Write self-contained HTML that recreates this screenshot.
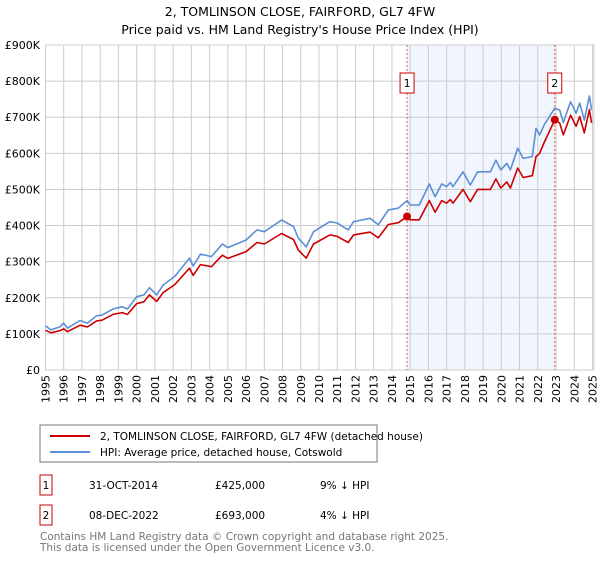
<!DOCTYPE html>
<html><head><meta charset="utf-8"><style>
body{margin:0;background:#fff;font-family:"Liberation Sans","DejaVu Sans",sans-serif;}
svg text{font-family:"DejaVu Sans","Liberation Sans",sans-serif;}
</style></head><body>
<svg id="c" width="600" height="560" xmlns="http://www.w3.org/2000/svg">
<text x="300" y="16" text-anchor="middle" font-size="12.5" fill="#000">2, TOMLINSON CLOSE, FAIRFORD, GL7 4FW</text>
<text x="300" y="34" text-anchor="middle" font-size="12.5" fill="#000">Price paid vs. HM Land Registry's House Price Index (HPI)</text>
<g id="plot"></g>
<rect x="40" y="425" width="337" height="37" fill="#fff" stroke="#777"/>
<line x1="50" y1="436" x2="90" y2="436" stroke="#cc0000" stroke-width="2"/>
<text x="100" y="440" font-size="10.5">2, TOMLINSON CLOSE, FAIRFORD, GL7 4FW (detached house)</text>
<line x1="50" y1="452" x2="90" y2="452" stroke="#5b8fd6" stroke-width="2"/>
<text x="100" y="456" font-size="10.5">HPI: Average price, detached house, Cotswold</text>
<g font-size="10.5">
<rect x="40" y="475" width="12" height="20" fill="#fff" stroke="#cc0000"/>
<text x="46" y="489" text-anchor="middle">1</text>
<text x="89" y="489">31-OCT-2014</text>
<text x="215" y="489">£425,000</text>
<text x="320" y="489">9% ↓ HPI</text>
<rect x="40" y="505" width="12" height="20" fill="#fff" stroke="#cc0000"/>
<text x="46" y="519" text-anchor="middle">2</text>
<text x="89" y="519">08-DEC-2022</text>
<text x="215" y="519">£693,000</text>
<text x="320" y="519">4% ↓ HPI</text>
</g>
<text x="40" y="540" font-size="10.5" fill="#777">Contains HM Land Registry data © Crown copyright and database right 2025.</text>
<text x="40" y="551" font-size="10.5" fill="#777">This data is licensed under the Open Government Licence v3.0.</text>
</svg>
<script>
const yearTicks=[1995,1996,1997,1998,1999,2000,2001,2002,2003,2004,2005,2006,2007,2008,2009,2010,2011,2012,2013,2014,2015,2016,2017,2018,2019,2020,2021,2022,2023,2024,2025];
const valueTicks=[0,100,200,300,400,500,600,700,800,900];
const valueLabels=["£0","£100K","£200K","£300K","£400K","£500K","£600K","£700K","£800K","£900K"];
const hpiTimes=[1995.0,1995.3,1995.8,1996.0,1996.2,1996.9,1997.3,1997.8,1998.1,1998.7,1999.2,1999.5,2000.0,2000.4,2000.7,2001.1,2001.45,2002.1,2002.9,2003.1,2003.5,2004.1,2004.7,2005.0,2006.0,2006.6,2007.0,2007.95,2008.6,2008.87,2009.3,2009.7,2010.6,2011.0,2011.6,2011.9,2012.8,2013.25,2013.8,2014.35,2014.83,2015.0,2015.5,2016.05,2016.37,2016.73,2017.0,2017.2,2017.35,2017.9,2018.3,2018.7,2019.4,2019.7,2019.97,2020.3,2020.5,2020.9,2021.2,2021.7,2021.9,2022.1,2022.35,2022.93,2023.2,2023.4,2023.8,2024.1,2024.3,2024.55,2024.83,2024.95];
const hpiValues=[122,111,120,130,116,137,130,150,152,169,175,169,203,208,228,208,235,260,310,288,321,314,349,339,360,388,383,415,397,365,341,383,411,407,388,411,420,402,443,448,469,457,457,515,480,515,508,519,508,549,512,549,549,581,554,572,554,614,586,591,669,651,679,725,720,685,743,711,739,692,759,720];
const paidValues=[110,103,109,114,106,124,119,136,138,154,159,154,184,189,208,190,214,237,282,262,292,286,318,309,328,353,349,378,361,332,310,349,374,370,353,374,382,366,403,408,425,416,416,469,437,469,462,472,462,500,466,500,500,529,504,521,504,559,533,538,591,600,630,693,684,651,706,675,702,657,721,684];
const saleTimes=[2014.83,2022.93];
const saleValues=[425,693];
const saleLabels=["1","2"];

const L=45.5,R=592.5,T=45,B=370,X0=1995,X1=2025,VMAX=900;
const xs=t=>L+(t-X0)/(X1-X0)*(R-L);
const ys=v=>B-v/VMAX*(B-T);
const NS="http://www.w3.org/2000/svg";
const g=document.getElementById('plot');
function mk(tag,attrs){const e=document.createElementNS(NS,tag);for(const k in attrs)e.setAttribute(k,attrs[k]);g.appendChild(e);return e;}

const shade=mk('rect',{x:xs(saleTimes[0]),y:T,width:xs(saleTimes[1])-xs(saleTimes[0]),height:B-T,fill:'#eef2fc',opacity:0.8});



yearTicks.forEach(yr=>{
  const x=xs(yr);
  const gl=mk('line',{x1:x,y1:T,x2:x,y2:B,stroke:'#cccccc','stroke-width':1});
  
  
  const tx=mk('text',{x:0,y:0,'font-size':11,'text-anchor':'end',transform:`translate(${x+4},${B+5}) rotate(-90)`});
  tx.textContent=yr;
  
  
});
valueTicks.forEach((v,i)=>{
  const y=ys(v);
  const gl=mk('line',{x1:L,y1:y,x2:594,y2:y,stroke:'#cccccc','stroke-width':1});
  
  
  const tx=mk('text',{x:40,y:y+4,'font-size':11,'text-anchor':'end'});
  tx.textContent=valueLabels[i];
  
  
});
const frame=mk('rect',{x:L,y:T,width:594-L,height:B-T,fill:'none',stroke:'#cccccc'});



saleTimes.forEach((t,i)=>{
  const x=xs(t);
  const vl=mk('line',{x1:x,y1:T,x2:x,y2:B,stroke:'#ee5555','stroke-width':1,'stroke-dasharray':'2,2'});
  
  
  const bx=mk('rect',{x:x-7,y:73,width:14,height:20,fill:'#fff',stroke:'#cc0000'});
  
  
  const bt=mk('text',{x:x,y:87,'font-size':11,'text-anchor':'middle'});
  bt.textContent=saleLabels[i];
  
  
});

const pathOf=vals=>vals.map((v,i)=>(i?'L':'M')+xs(hpiTimes[i]).toFixed(1)+','+ys(v).toFixed(1)).join('');
const hp=mk('path',{d:pathOf(hpiValues),fill:'none',stroke:'#5b8fd6','stroke-width':1.6,'stroke-linejoin':'round'});


const pp=mk('path',{d:pathOf(paidValues),fill:'none',stroke:'#cc0000','stroke-width':1.6,'stroke-linejoin':'round'});


saleTimes.forEach((t,i)=>{
  const c=mk('circle',{cx:xs(t),cy:ys(saleValues[i]),r:4,fill:'#cc0000'});
  
  
});
</script>
</body></html>
